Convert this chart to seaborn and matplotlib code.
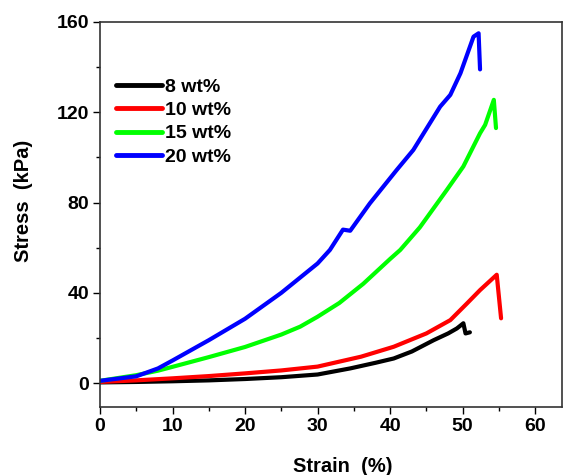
import matplotlib
matplotlib.use("Agg")
import matplotlib.pyplot as plt
from matplotlib.ticker import MultipleLocator
import seaborn as sns
import pandas as pd

# ---- data ----
labels = ["8 wt%", "10 wt%", "15 wt%", "20 wt%"]
colors = ["#000000", "#ff0000", "#00ff00", "#0000ff"]

s8_x = [0, 5, 10, 15, 20, 25, 30, 34.5, 38, 40.5, 43, 46, 48, 49.2, 50.1, 50.4, 51]
s8_y = [0.3, 0.5, 0.8, 1.2, 1.8, 2.6, 3.8, 6.5, 9, 10.9, 14, 19, 22, 24.2, 26.5, 22, 22.5]

s10_x = [0, 5, 10, 15, 20, 25, 30, 33, 36, 40.5, 45, 48.3, 50.6, 52.4, 54.7, 55.3]
s10_y = [0.5, 1.2, 2.1, 3.1, 4.3, 5.6, 7.3, 9.5, 11.7, 16.1, 22, 27.9, 35.3, 41.2, 48, 28.7]

s15_x = [0, 5, 8, 10, 15, 20, 25, 27.6, 30, 33, 36.3, 40, 41.4, 44.1, 47.8, 50.1, 52.4, 53.1, 54.3, 54.6]
s15_y = [1, 3.5, 5.5, 7.2, 11.5, 16, 21.5, 25, 29.4, 35.5, 44, 55, 59, 69, 85.5, 96, 110.7, 114.4, 125.5, 113]

s20_x = [0, 5, 8, 10, 15, 20, 25, 30, 31.7, 33.5, 34.5, 37.2, 40.9, 43.2, 46.9, 48.3, 49.7, 51.5, 52.2, 52.4]
s20_y = [1, 3, 6.5, 10, 19, 28.5, 40, 53, 59, 68, 67.5, 79.6, 94.4, 103.3, 122.5, 127.7, 137.3, 153.5, 155, 139]

xticks = [0, 10, 20, 30, 40, 50, 60]
yticks = [0, 40, 80, 120, 160]

series = [(s8_x, s8_y), (s10_x, s10_y), (s15_x, s15_y), (s20_x, s20_y)]
frames = []
for lab, (xs, ys) in zip(labels, series):
    frames.append(pd.DataFrame({"Strain": xs, "Stress": ys, "Sample": lab}))
df = pd.concat(frames, ignore_index=True)

sns.set_theme(style="white")
plt.rcParams["font.family"] = ["Liberation Sans", "DejaVu Sans"]
plt.rcParams["font.weight"] = "bold"
plt.rcParams["text.color"] = "black"
plt.rcParams["axes.labelcolor"] = "black"
plt.rcParams["xtick.color"] = "black"
plt.rcParams["ytick.color"] = "black"

fig = plt.figure(figsize=(5.63, 4.75), dpi=100)
ax = fig.add_axes([100 / 563, 1 - 407 / 475, 462 / 563, (407 - 22) / 475])

sns.lineplot(data=df, x="Strain", y="Stress", hue="Sample", hue_order=labels,
             palette=dict(zip(labels, colors)), sort=False, estimator=None,
             units="Sample", linewidth=3, ax=ax)

ax.set_xlim(0, 63.7)
ax.set_ylim(-10.6, 160)
ax.set_xticks(xticks)
ax.set_yticks(yticks)
ax.xaxis.set_minor_locator(MultipleLocator(5))
ax.yaxis.set_minor_locator(MultipleLocator(20))
ax.tick_params(axis="both", which="major", direction="out", length=5, width=1,
               labelsize=14, bottom=True, left=True, top=False, right=False,
               color="black", labelcolor="black", pad=3)
ax.tick_params(axis="both", which="minor", direction="out", length=3, width=1,
               bottom=True, left=True, top=False, right=False, color="black")
for lab in ax.get_xticklabels() + ax.get_yticklabels():
    lab.set_fontweight("bold")

for sp in ax.spines.values():
    sp.set_color("#333333")
    sp.set_linewidth(1.2)

ax.set_xlabel("Strain  (%)", fontsize=14.5, fontweight="bold", color="black")
ax.set_ylabel("Stress  (kPa)", fontsize=14.5, fontweight="bold", color="black")
ax.xaxis.set_label_coords(0.526, -0.131)
ax.yaxis.set_label_coords(-0.145, 0.535)

leg = ax.legend(loc="upper left", bbox_to_anchor=(0.017, 0.875), frameon=False,
                prop={"weight": "bold", "size": 14}, handlelength=2.4,
                handletextpad=0.15, labelspacing=0.3, borderaxespad=0)
for h in leg.get_lines():
    h.set_linewidth(3.5)
for t in leg.get_texts():
    t.set_color("black")

fig.savefig("out.png", dpi=100)
